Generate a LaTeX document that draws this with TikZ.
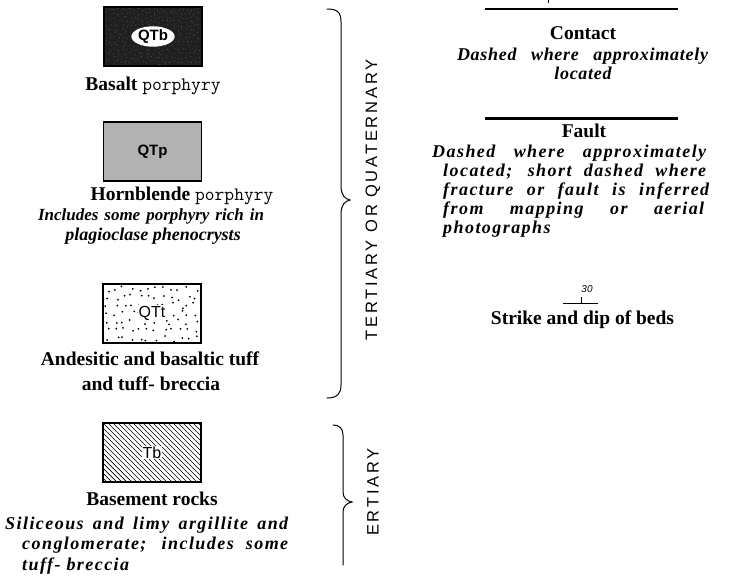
\documentclass[tikz,border=0pt]{standalone}
\usepackage{fontspec}
\usetikzlibrary{shapes.geometric}
\newfontfamily\tms{Liberation Serif}
\newfontfamily\tmsls[LetterSpace=8]{Liberation Serif}
\newfontfamily\tmsla[LetterSpace=4]{Liberation Serif}
\newfontfamily\sans{Liberation Sans}
\newfontfamily\sansls[LetterSpace=17]{Liberation Sans}
\newcommand{\jline}[2]{\makebox[#1pt][s]{#2}}
\newcommand{\porph}{{\ttfamily\mdseries\fontsize{19}{20}\selectfont porphyry}}
\tikzset{
  unitbox/.style={draw=black, line width=1.4pt, minimum width=98pt, minimum height=59pt, inner sep=0pt},
  boxlabel/.style={font=\sans\fontsize{16}{18}\selectfont, inner sep=1.5pt},
  headtxt/.style={font=\tms\bfseries\fontsize{19.5}{22}\selectfont, inner sep=0pt, anchor=mid},
  desctxt/.style={font=\tms\bfseries\itshape\fontsize{18}{20}\selectfont, inner sep=0pt, anchor=mid},
  lsdesc/.style={font=\tmsls\bfseries\itshape\fontsize{18}{20}\selectfont, inner sep=0pt, anchor=mid west},
  agetxt/.style={font=\sansls\fontsize{16.5}{18}\selectfont, inner sep=0pt, rotate=90},
  bracepath/.style={line width=1pt, line cap=round}
}
\begin{document}
\begin{tikzpicture}[x=1pt,y=-1pt]
\useasboundingbox (0,0) rectangle (731,581);

% ---------- left column boxes ----------
\node[unitbox, fill=black!88] (qtb) at (153,36.5) {};
\begin{scope}
  \clip (qtb.south west) rectangle (qtb.north east);
  \pgfmathsetseed{5}
  \foreach \i in {0,...,24} {
    \foreach \j in {0,...,14} {
      \pgfmathsetmacro{\dx}{105+\i*4+rnd*3}
      \pgfmathsetmacro{\dy}{8+\j*4+rnd*3}
      \fill[black!60] (\dx,\dy) circle (0.45pt);
    }
  }
\end{scope}
\node[unitbox] (qtbframe) at (qtb) {};
\node[boxlabel, ellipse, fill=white, inner sep=0.3pt, font=\sans\bfseries\fontsize{15}{18}\selectfont] (qtbl) at (qtb) {QTb};

\node[unitbox, fill=black!30] (qtp) at (152.5,151.5) {};
\node[boxlabel, font=\sans\bfseries\fontsize{15}{18}\selectfont] (qtpl) at (qtp) {QTp};

\node[unitbox] (qtt) at (152,313.5) {};
\begin{scope}
  \clip (qtt.south west) rectangle (qtt.north east);
  \pgfmathsetseed{11}
  \foreach \i in {0,...,11} {
    \foreach \j in {0,...,6} {
      \pgfmathsetmacro{\dx}{105+\i*8+rnd*6}
      \pgfmathsetmacro{\dy}{286+\j*8.3+rnd*6}
      \fill (\dx,\dy) circle (1pt);
    }
  }
\end{scope}
\node[boxlabel, fill=white, inner sep=1pt] (qttl) at (qtt) {QTt};
\node[unitbox] (qtt2) at (152,313.5) {};

\node[unitbox] (tb) at (152,452.5) {};
\begin{scope}
  \clip (tb.south west) rectangle (tb.north east);
  \foreach \k in {-65,-60,...,100}
    \draw[line width=0.7pt] (103+\k,423) -- ++(62,62);
\end{scope}
\node[boxlabel, fill=white, inner sep=1pt] (tbl) at (tb) {Tb};
\node[unitbox] (tb2) at (152,452.5) {};

% ---------- left column texts ----------
\node[headtxt] (t1) at (153,88) {Basalt \porph};
\node[headtxt] (t2) at (182,198) {Hornblende \porph};
\node[desctxt, font=\tms\bfseries\itshape\fontsize{17}{20}\selectfont] (t3) at (151,218) {\jline{226}{Includes some porphyry rich in}};
\node[desctxt] (t4) at (153,238) {plagioclase phenocrysts};
\node[headtxt] (t5) at (150,363) {Andesitic and basaltic tuff};
\node[headtxt] (t6) at (151,388) {and tuff- breccia};
\node[headtxt] (t7) at (152,503) {Basement rocks};
\node[lsdesc] (t8) at (5,527) {\jline{283}{Siliceous and limy argillite and}};
\node[lsdesc] (t9) at (22,547) {\jline{266}{conglomerate; includes some}};
\node[lsdesc] (t10) at (22,568) {tuff- breccia};

% ---------- braces ----------
\draw[bracepath] (327,9) .. controls (337,9) and (341,12) .. (341,22)
  -- (341,186) .. controls (341,195) and (345,199) .. (350,200)
  .. controls (345,201) and (341,205) .. (341,214)
  -- (341,385) .. controls (341,394) and (337,398) .. (327,398);
\node[agetxt] (age1) at (373,200) {TERTIARY OR QUATERNARY};

\draw[bracepath] (333,425) .. controls (339,425) and (343,428) .. (343,435)
  -- (343,492) .. controls (343,498) and (347,501) .. (352,502)
  .. controls (347,503) and (343,506) .. (343,512)
  -- (343,565);
\node[agetxt] (age2) at (373,492) {ERTIARY};

% ---------- right column ----------
\coordinate (c1) at (485,9);
\coordinate (c2) at (678,9);
\draw[line width=1.6pt] (c1) -- (c2);
\coordinate (ct1) at (548,0);
\coordinate (ct2) at (548,3);
\draw[line width=0.8pt] (ct1) -- (ct2);
\node[headtxt] (contact) at (583,37) {Contact};
\node[desctxt, font=\tmsla\bfseries\itshape\fontsize{18}{20}\selectfont] (cd1) at (582.5,58) {\jline{251}{Dashed where approximately}};
\node[desctxt, font=\tmsla\bfseries\itshape\fontsize{18}{20}\selectfont] (cd2) at (583,77) {located};

\coordinate (f1) at (485,118);
\coordinate (f2) at (678,118);
\draw[line width=3pt] (f1) -- (f2);
\node[headtxt] (fault) at (584,135) {Fault};
\node[lsdesc] (fd1) at (432,155) {\jline{274}{Dashed where approximately}};
\node[lsdesc] (fd2) at (443,174) {\jline{263}{located; short dashed where}};
\node[lsdesc] (fd3) at (443,193) {\jline{266}{fracture or fault is inferred}};
\node[lsdesc] (fd4) at (443,212) {\jline{261}{from mapping or aerial}};
\node[lsdesc] (fd5) at (443,231) {photographs};

\coordinate (s1) at (563,303);
\coordinate (s2) at (598,303);
\coordinate (s3) at (581,303);
\coordinate (s4) at (581,297);
\draw[line width=0.9pt] (s1) -- (s2);
\draw[line width=0.9pt] (s3) -- (s4);
\node[font=\sans\itshape\fontsize{10}{12}\selectfont, inner sep=0pt] (dip) at (587,289) {30};
\node[headtxt] (strike) at (582.5,322) {Strike and dip of beds};
\end{tikzpicture}
\end{document}
